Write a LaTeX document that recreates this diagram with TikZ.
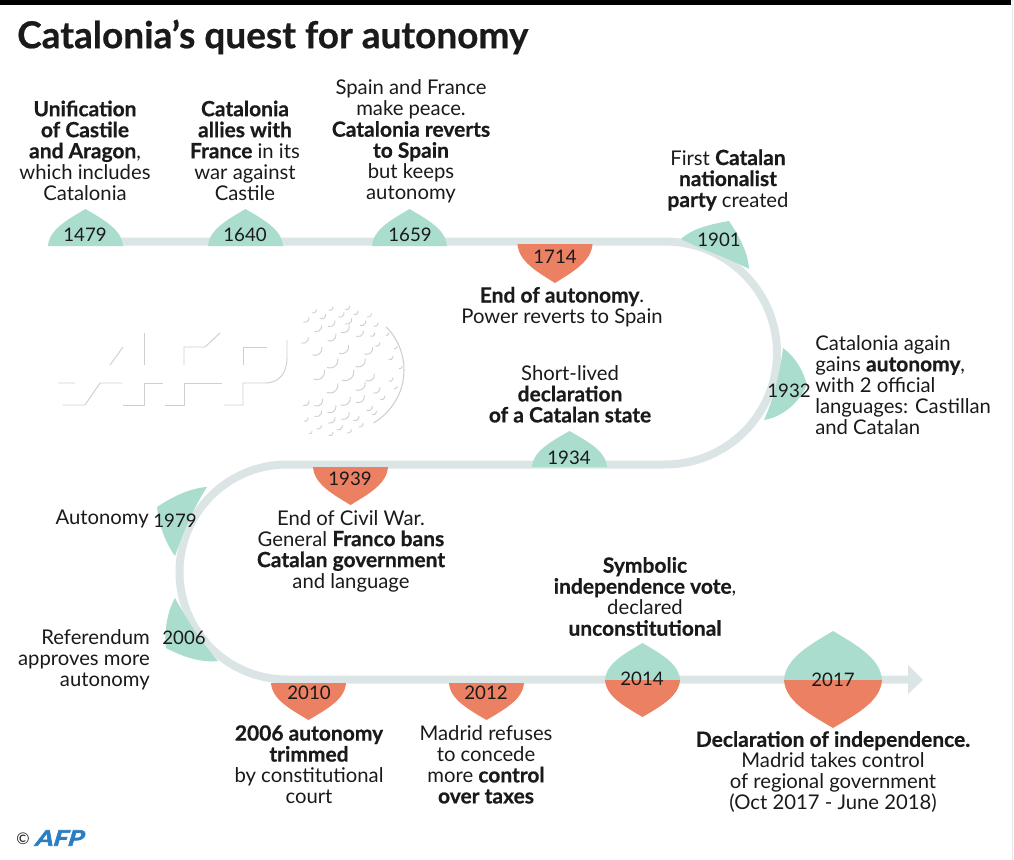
\documentclass[tikz,border=0pt]{standalone}
\usepackage{fontspec}
\setmainfont{Lato}[BoldFeatures={Scale=1.035,FakeBold=0.6}]
\newfontfamily\afpfont{Lato Bold}[FakeBold=3,FakeSlant=0.3,FakeStretch=1.2]
\usetikzlibrary{calc}
\definecolor{teal}{HTML}{ABDDCF}
\definecolor{orng}{HTML}{EC8062}
\definecolor{strp}{HTML}{DCE5E6}
\definecolor{inkc}{HTML}{1A1A1A}
\definecolor{wm}{HTML}{CFCFCF}
\definecolor{afpb}{HTML}{2A7FC4}
\newcommand{\halflens}[5]{% centre x, base y, half width, height (negative: points down), colour
  \fill[#5] (#1-#3,#2) .. controls (#1-0.97*#3,#2-0.44*#4) and (#1-0.5*#3,#2-0.7*#4) .. (#1,#2-#4)
    .. controls (#1+0.5*#3,#2-0.7*#4) and (#1+0.97*#3,#2-0.44*#4) .. (#1+#3,#2) -- cycle;}
\tikzset{
  lab/.style={align=center,inner sep=0pt,text=inkc,font=\fontsize{15.2}{15.75}\selectfont},
  labl/.style={lab,align=left,anchor=west},
  labr/.style={lab,align=right,anchor=east},
  yr/.style={inner sep=0pt,text=inkc,font=\fontsize{14}{15}\selectfont},
  wmline/.style={draw=wm,line width=0.7pt},
  dimple/.style={draw=wm,line width=0.7pt,line cap=round}
}
\begin{document}
\begin{tikzpicture}[x=0.75pt,y=-0.75pt]
\useasboundingbox (0,0) rectangle (1014,860);
\fill[white] (0,0) rectangle (1014,860);
\fill[black] (0,0) rectangle (1011,5);
\draw[black!8,line width=0.7pt] (1012.5,0) -- (1012.5,860);
\node[anchor=west,inner sep=0pt,text=inkc,font=\fontsize{26.8}{28}\selectfont\bfseries] (title) at (17,37) {Catalonia’s quest for autonomy};

% watermark
\begin{scope}[wmline]
\draw (58,383)--(75,383) (63,405)--(85,405)--(100,383)--(122,383);
\draw (110,365)--(123,347);
\draw (123,405)--(144,405)--(144,383)--(163,383);
\draw (144,333)--(144,365);
\draw (165,405)--(184,405)--(184,383)--(222,383);
\draw (184,365)--(184,347)--(205,347)--(220,333);
\draw (224,405)--(243,405)--(243,383)--(265,383) .. controls (280,383) and (287,372) .. (287,358) -- (287,340);
\draw (243,365)--(243,347)--(267,347);
\end{scope}
\coordinate (ball) at (343,370);
\draw[wm,line width=0.8pt] (ball) ++(-45:61) arc (-45:60:61);
\foreach \x/\y/\r in {100/30/3,150/22/3,200/20/3,75/55/4,125/45/4,180/40/4,225/35/3,265/42/3,
  110/80/5,150/65/5,200/58/5,245/65/4,285/70/3,70/115/5,150/105/6,190/80/6,235/95/5,275/100/3,320/100/2,
  105/145/7,185/140/7,260/145/6,290/130/3,345/140/2,150/180/8,235/180/7,330/170/3,
  110/215/8,195/215/9,265/225/6,360/200/2,150/255/8,235/250/7,330/235/3,
  110/300/6,190/295/7,285/265/5,345/260/2,75/305/4,150/320/6,235/290/6,305/290/3,
  110/335/5,190/340/6,265/320/4,75/355/3,150/355/5,225/350/4,280/335/3,
  115/378/3,175/378/4,240/372/3,90/395/2,150/398/3,205/390/3}{
  \pgfmathsetmacro{\px}{280+\x/3}
  \pgfmathsetmacro{\py}{300+\y/3}
  \draw[dimple] ($(\px,\py)+(110:\r)$) arc (110:-10:\r);
}
\draw[strp,line width=6pt] (85,241.5) -- (665,241.5) arc (-90:90:112 and 111.5) -- (287,464.5) arc (270:90:107.5 and 107.5) -- (908,679.5);
\fill[strp] (908,665) -- (923,680) -- (908,694) -- cycle;

% markers
\halflens{85.5}{246}{37.5}{37}{teal}
\halflens{245.5}{246}{37.5}{37}{teal}
\halflens{409.5}{246}{37.5}{37}{teal}
\halflens{555}{244}{37.5}{-39}{orng}
\halflens{569.5}{467}{37.5}{36}{teal}
\halflens{350.5}{467}{37.5}{-38}{orng}
\halflens{308.5}{683}{37.5}{-37}{orng}
\halflens{486.5}{683}{37.5}{-37}{orng}
\halflens{642.5}{680}{37.5}{37}{teal}
\halflens{642.5}{680}{37.5}{-37}{orng}
\halflens{833}{680}{49}{49}{teal}
\halflens{833}{680}{49}{-48}{orng}
\fill[teal] (681,239) .. controls (693,228) and (712,224) .. (729,221) .. controls (739,236) and (748,252) .. (749,269) .. controls (728,258) and (698,248) .. (681,239) -- cycle;
\fill[teal] (783,348) .. controls (796,357) and (804,373) .. (807,385) .. controls (798,404) and (782,417) .. (764,420) .. controls (774,398) and (780,372) .. (783,348) -- cycle;
\fill[teal] (207,487) .. controls (190,488) and (172,497) .. (157,507) .. controls (159,525) and (165,542) .. (175,556) .. controls (183,532) and (194,507) .. (207,487) -- cycle;
\fill[teal] (175,598) .. controls (167,612) and (164,632) .. (166,648) .. controls (181,656) and (200,663) .. (218,661) .. controls (202,643) and (187,620) .. (175,598) -- cycle;

% years
\node[yr] (y1479) at (85,235) {1479};
\node[yr] (y1640) at (245,235) {1640};
\node[yr] (y1659) at (410,235) {1659};
\node[yr] (y1714) at (555,257) {1714};
\node[yr] (y1901) at (719,240) {1901};
\node[yr] (y1932) at (789,391) {1932};
\node[yr] (y1934) at (569,458) {1934};
\node[yr] (y1939) at (350,479) {1939};
\node[yr] (y1979) at (175,521) {1979};
\node[yr] (y2006) at (184,638) {2006};
\node[yr] (y2010) at (309,693) {2010};
\node[yr] (y2012) at (486,693) {2012};
\node[yr] (y2014) at (642,679) {2014};
\node[yr] (y2017) at (833,680) {2017};

% labels
\node[lab] (t1479) at (85,150.5) {\textbf{Unification}\\\textbf{of Castile}\\\textbf{and Aragon},\\which includes\\Catalonia};
\node[lab] (t1640) at (245,150.5) {\textbf{Catalonia}\\\textbf{allies with}\\\textbf{France} in its\\war against\\Castile};
\node[lab] (t1659) at (411,141.5) {Spain and France\\make peace.\\\textbf{Catalonia reverts}\\\textbf{to Spain}\\but keeps\\autonomy};
\node[lab] (t1714) at (562,307) {\textbf{End of autonomy}.\\Power reverts to Spain};
\node[lab] (t1901) at (728,180) {First \textbf{Catalan}\\\textbf{nationalist}\\\textbf{party} created};
\node[labl] (t1932) at (815,385) {Catalonia again\\gains \textbf{autonomy},\\with 2 official\\languages: Castillan\\and Catalan};
\node[lab] (t1934) at (570,394) {Short-lived\\\textbf{declaration}\\\textbf{of a Catalan state}};
\node[lab] (t1939) at (351,551) {End of Civil War.\\General \textbf{Franco bans}\\\textbf{Catalan government}\\and language};
\node[labr] (t1979) at (149,518.5) {Autonomy};
\node[labr] (t2006) at (150,660) {Referendum\\approves more\\autonomy};
\node[lab] (t2010) at (309,764.5) {\textbf{2006 autonomy}\\\textbf{trimmed}\\by constitutional\\court};
\node[lab] (t2012) at (486,764.5) {Madrid refuses\\to concede\\more \textbf{control}\\\textbf{over taxes}};
\node[lab] (t2014) at (645,596.5) {\textbf{Symbolic}\\\textbf{independence vote},\\declared\\\textbf{unconstitutional}};
\node[lab] (t2017) at (833,772) {\textbf{Declaration of independence.}\\Madrid takes control\\of regional government\\(Oct 2017 - June 2018)};

% credit
\node[inner sep=0pt,text=inkc,font=\fontsize{12}{13}\selectfont] (copy) at (23,839) {©};
\node[anchor=west,inner sep=0pt,text=afpb,font=\fontsize{16}{18}\selectfont\afpfont] (afp) at (34,838) {AFP};
\end{tikzpicture}
\end{document}
